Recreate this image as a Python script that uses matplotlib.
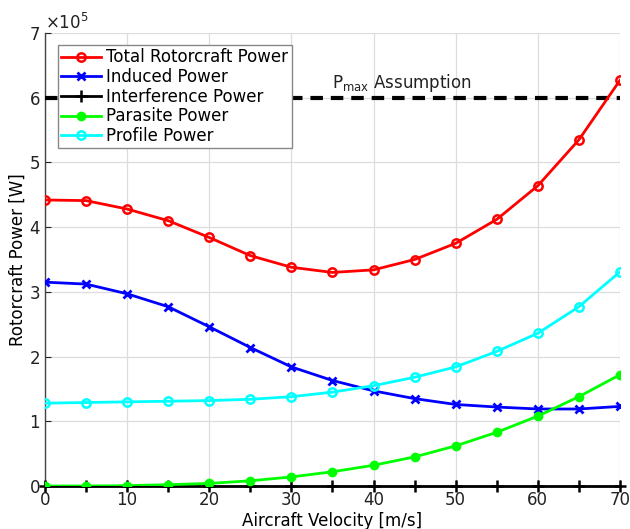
import matplotlib
matplotlib.use("Agg")
import matplotlib.pyplot as plt
from matplotlib.ticker import ScalarFormatter

# Aircraft velocity [m/s]
velocity = [0, 5, 10, 15, 20, 25, 30, 35, 40, 45, 50, 55, 60, 65, 70]

# Power components [W]
total_power = [442000, 441000, 428000, 410000, 384000, 356000, 338000, 330000,
               334000, 350000, 375000, 412000, 464000, 535000, 627000]
induced_power = [315000, 312000, 297000, 277000, 246000, 214000, 184000, 163000,
                 147000, 135000, 126000, 122000, 119000, 119000, 123000]
interference_power = [0] * 15
parasite_power = [0, 0, 500, 2000, 4000, 8000, 14000, 22000,
                  32000, 45000, 62000, 83000, 108000, 138000, 172000]
profile_power = [128000, 129000, 130000, 131000, 132000, 134000, 138000, 145000,
                 155000, 168000, 184000, 208000, 236000, 277000, 331000]

p_max = 600000
p_max_label = r"P$_{\mathrm{max}}$ Assumption"

fig = plt.figure(figsize=(6.3, 5.29), dpi=100)
ax = fig.add_axes([0.0714, 0.0813, 0.9127, 0.8563])

lw = 2.0
ax.plot(velocity, total_power, color="#ff0000", lw=lw, marker="o", ms=6,
        mfc="none", mew=1.8, label="Total Rotorcraft Power", zorder=5)
ax.plot(velocity, induced_power, color="#0000ff", lw=lw, marker="x", ms=6,
        mew=2, label="Induced Power", zorder=5)
ax.plot(velocity, interference_power, color="black", lw=lw, marker="+", ms=8,
        mew=1.8, label="Interference Power", zorder=5, clip_on=False)
ax.plot(velocity, parasite_power, color="#00ff00", lw=lw, marker="o", ms=6,
        mfc="#00ff00", label="Parasite Power", zorder=5)
ax.plot(velocity, profile_power, color="#00ffff", lw=lw, marker="o", ms=6,
        mfc="none", mew=1.8, label="Profile Power", zorder=5)

ax.plot([0, 70], [p_max, p_max], color="black", lw=3, dashes=(3.0, 1.9), zorder=4)
ax.text(35.0, p_max + 0.06e5, p_max_label, fontsize=12, color="#222222",
        ha="left", va="bottom")

ax.set_xlim(0, 70)
ax.set_ylim(0, 7e5)
ax.set_xticks(range(0, 71, 10))
ax.set_yticks([i * 1e5 for i in range(8)])

fmt = ScalarFormatter(useMathText=True)
fmt.set_powerlimits((0, 0))
ax.yaxis.set_major_formatter(fmt)
ax.yaxis.get_offset_text().set_fontsize(12)

ax.grid(True, color="#dddddd", lw=0.9)
ax.set_axisbelow(True)
for s in ("top", "right"):
    ax.spines[s].set_visible(False)
for s in ("left", "bottom"):
    ax.spines[s].set_color("#444444")
    ax.spines[s].set_linewidth(1.0)

ax.tick_params(direction="in", labelsize=12, length=4, colors="#222222")
ax.set_xlabel("Aircraft Velocity [m/s]", fontsize=12, labelpad=2)
ax.set_ylabel("Rotorcraft Power [W]", fontsize=12, labelpad=1)

leg = ax.legend(loc="upper left", bbox_to_anchor=(0.0226, 0.9735), fontsize=12,
                frameon=True, fancybox=False, borderpad=0.2, labelspacing=0.1,
                handlelength=2.4, handletextpad=0.3, borderaxespad=0.0)
leg.get_frame().set_edgecolor("#888888")
leg.get_frame().set_linewidth(1.0)
leg.get_frame().set_alpha(1.0)
leg.set_zorder(10)

fig.savefig("out.png", dpi=100)
